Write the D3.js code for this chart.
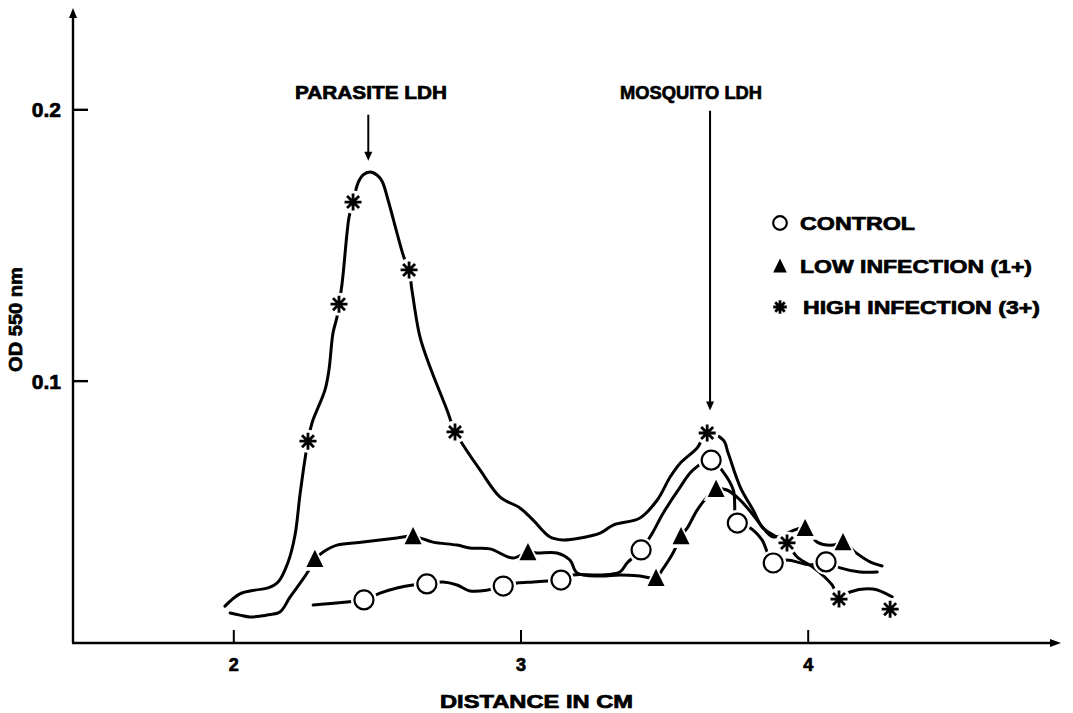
<!DOCTYPE html>
<html>
<head>
<meta charset="utf-8">
<script src="https://cdn.jsdelivr.net/npm/d3@7"></script>
<style>
  html, body { margin: 0; padding: 0; background: #fff; }
  svg text { font-family: "Liberation Sans", Arial, sans-serif; font-weight: bold; fill: #000; stroke: #000; stroke-width: 0.7px; }
</style>
</head>
<body>
<svg id="chart" width="1073" height="713"></svg>
<script>
// ---------- data (distance in cm, OD 550 nm) ----------
const xTicks = [2, 3, 4];
const yTicks = [0.1, 0.2];
const yTickLabels = ["0.1", "0.2"];

const highLine = [[1.971,0.0169],[2.023,0.0214],[2.076,0.0228],[2.121,0.0236],[2.156,0.0258],[2.191,0.0332],[2.215,0.0431],[2.232,0.0578],[2.249,0.0707],[2.260,0.0777],[2.274,0.0844],[2.319,0.0965],[2.333,0.1039],[2.347,0.1175],[2.361,0.1234],[2.368,0.1282],[2.379,0.1360],[2.396,0.1544],[2.403,0.1603],[2.417,0.1658],[2.434,0.1728],[2.452,0.1758],[2.476,0.1769],[2.500,0.1758],[2.518,0.1735],[2.539,0.1665],[2.570,0.1544],[2.594,0.1455],[2.612,0.1408],[2.622,0.1334],[2.650,0.1161],[2.685,0.1050],[2.744,0.0892],[2.772,0.0811],[2.800,0.0763],[2.859,0.0671],[2.929,0.0571],[2.998,0.0531],[3.044,0.0486],[3.103,0.0424],[3.148,0.0413],[3.208,0.0420],[3.277,0.0438],[3.323,0.0468],[3.416,0.0494],[3.476,0.0560],[3.521,0.0645],[3.556,0.0696],[3.615,0.0752],[3.650,0.0807],[3.706,0.0781],[3.723,0.0733],[3.765,0.0608],[3.810,0.0523],[3.841,0.0461],[3.880,0.0431],[3.928,0.0402],[3.963,0.0350],[4.018,0.0313],[4.085,0.0247],[4.109,0.0195],[4.147,0.0221],[4.227,0.0232],[4.294,0.0203]];
const highMarkers = [[2.260,0.0777],[2.368,0.1282],[2.417,0.1658],[2.612,0.1408],[2.772,0.0811],[3.650,0.0807],[3.928,0.0402],[4.109,0.0195],[4.287,0.0158]];

const controlLine = [[2.278,0.0173],[2.396,0.0184],[2.455,0.0192],[2.511,0.0217],[2.570,0.0236],[2.626,0.0247],[2.674,0.0251],[2.730,0.0258],[2.779,0.0247],[2.824,0.0225],[2.884,0.0228],[2.940,0.0243],[2.988,0.0254],[3.044,0.0258],[3.093,0.0262],[3.141,0.0265],[3.183,0.0284],[3.277,0.0284],[3.346,0.0295],[3.371,0.0328],[3.420,0.0376],[3.459,0.0438],[3.497,0.0512],[3.556,0.0608],[3.601,0.0671],[3.664,0.0707],[3.706,0.0663],[3.741,0.0597],[3.755,0.0475],[3.800,0.0457],[3.841,0.0413],[3.880,0.0328],[3.928,0.0339],[4.008,0.0321],[4.064,0.0332],[4.113,0.0310],[4.182,0.0295],[4.242,0.0295]];
const controlMarkers = [[2.455,0.0192],[2.674,0.0251],[2.940,0.0243],[3.141,0.0265],[3.420,0.0376],[3.664,0.0707],[3.755,0.0475],[3.880,0.0328],[4.064,0.0332]];

const lowLine = [[1.989,0.0144],[2.023,0.0136],[2.058,0.0129],[2.117,0.0136],[2.162,0.0147],[2.198,0.0203],[2.257,0.0291],[2.284,0.0343],[2.312,0.0368],[2.361,0.0394],[2.452,0.0405],[2.570,0.0420],[2.626,0.0427],[2.695,0.0405],[2.779,0.0394],[2.824,0.0383],[2.894,0.0380],[2.974,0.0346],[3.026,0.0368],[3.057,0.0365],[3.127,0.0365],[3.172,0.0339],[3.197,0.0291],[3.277,0.0280],[3.346,0.0284],[3.416,0.0280],[3.472,0.0273],[3.493,0.0302],[3.531,0.0365],[3.559,0.0427],[3.583,0.0461],[3.615,0.0523],[3.650,0.0571],[3.681,0.0601],[3.719,0.0597],[3.765,0.0560],[3.810,0.0505],[3.845,0.0457],[3.880,0.0424],[3.991,0.0457],[4.033,0.0405],[4.088,0.0394],[4.123,0.0405],[4.165,0.0368],[4.217,0.0332],[4.259,0.0317]];
const lowMarkers = [[2.284,0.0343],[2.626,0.0427],[3.026,0.0368],[3.472,0.0273],[3.559,0.0427],[3.681,0.0601],[3.991,0.0457],[4.123,0.0405]];

const legendLabels = ["CONTROL", "LOW INFECTION (1+)", "HIGH INFECTION (3+)"];
const legendKinds = ["circle", "triangle", "asterisk"];
const annotations = [
  { text: "PARASITE LDH", x: 2.47, top: 0.198, bottom: 0.181 },
  { text: "MOSQUITO LDH", x: 3.66, top: 0.1995, bottom: 0.089 }
];

// ---------- layout ----------
const svg = d3.select("#chart");
const x = d3.scaleLinear().domain([2, 4]).range([233.3, 807.7]);
const y = d3.scaleLinear().domain([0, 0.2]).range([652, 109.3]);
const axisX = 73, axisY = 643;

// axes lines with arrows
svg.append("line").attr("x1", axisX).attr("y1", axisY).attr("x2", axisX).attr("y2", 16)
  .attr("stroke", "#000").attr("stroke-width", 2.4);
svg.append("path").attr("d", `M${axisX - 4},18 L${axisX},8 L${axisX + 4},18 Z`).attr("fill", "#000");
svg.append("line").attr("x1", axisX - 1).attr("y1", axisY).attr("x2", 1052).attr("y2", axisY)
  .attr("stroke", "#000").attr("stroke-width", 2.4);
svg.append("path").attr("d", `M1050,${axisY - 4} L1061,${axisY} L1050,${axisY + 4} Z`).attr("fill", "#000");

// y axis ticks (inward) and labels
const yAxis = d3.axisLeft(y).tickValues(yTicks).tickSizeInner(-15).tickSizeOuter(0).tickPadding(12)
  .tickFormat((d, i) => yTickLabels[i]);
const gy = svg.append("g").attr("transform", `translate(${axisX},0)`).call(yAxis);
gy.attr("font-size", null).attr("font-family", null);
gy.select(".domain").remove();
gy.selectAll(".tick line").attr("stroke", "#000").attr("stroke-width", 2.4);
gy.selectAll(".tick text").style("font-size", "21px").attr("dy", "0.36em");

// x axis ticks (inward) and labels
const xAxis = d3.axisBottom(x).tickValues(xTicks).tickSizeInner(-13).tickSizeOuter(0).tickPadding(15)
  .tickFormat(d3.format("d"));
const gx = svg.append("g").attr("transform", `translate(0,${axisY})`).call(xAxis);
gx.attr("font-size", null).attr("font-family", null);
gx.select(".domain").remove();
gx.selectAll(".tick line").attr("stroke", "#000").attr("stroke-width", 2);
gx.selectAll(".tick text").style("font-size", "18px");

// axis titles
svg.append("text").attr("x", 440).attr("y", 708).style("font-size", "18px")
  .attr("textLength", 193).attr("lengthAdjust", "spacingAndGlyphs").text("DISTANCE IN CM");
svg.append("text").attr("transform", "translate(22,372) rotate(-90)").style("font-size", "18px")
  .attr("textLength", 105).attr("lengthAdjust", "spacingAndGlyphs").text("OD 550 nm");

// ---------- curves ----------
const line = d3.line().x(d => x(d[0])).y(d => y(d[1])).curve(d3.curveCatmullRom.alpha(0.5));
const gLines = svg.append("g");
[highLine, controlLine, lowLine].forEach(data => {
  gLines.append("path").attr("d", line(data)).attr("fill", "none").attr("stroke", "#000")
    .attr("stroke-width", 3).attr("stroke-linecap", "round").attr("stroke-linejoin", "round");
});

// ---------- markers ----------
function triPath(s) {
  const h = s * 0.95;
  return `M0,${-h / 2 - 1} L${s / 2},${h / 2} L${-s / 2},${h / 2} Z`;
}
function asteriskPath(r) {
  let p = "";
  for (let k = 0; k < 4; k++) {
    const a = k * Math.PI / 4;
    p += `M${(-r * Math.cos(a)).toFixed(2)},${(-r * Math.sin(a)).toFixed(2)} L${(r * Math.cos(a)).toFixed(2)},${(r * Math.sin(a)).toFixed(2)} `;
  }
  return p;
}
function drawMarker(g, kind, cx, cy, scale) {
  const s = scale || 1;
  const t = g.append("g").attr("transform", `translate(${cx},${cy})`);
  if (kind === "circle") {
    t.append("circle").attr("r", 9.5 * s).attr("fill", "#fff").attr("stroke", "#000").attr("stroke-width", 2.2);
  } else if (kind === "triangle") {
    t.append("path").attr("d", triPath(17 * s)).attr("fill", "#000");
  } else {
    t.append("path").attr("d", asteriskPath(8.5 * s)).attr("stroke", "#000").attr("stroke-width", 2.8)
      .attr("stroke-linecap", "butt");
    t.append("circle").attr("r", 2.6 * s).attr("fill", "#000");
  }
}
function drawHalo(g, kind, cx, cy) {
  const t = g.append("g").attr("transform", `translate(${cx},${cy})`);
  if (kind === "circle") t.append("circle").attr("r", 13).attr("fill", "#fff");
  else if (kind === "triangle") t.append("path").attr("d", triPath(25)).attr("fill", "#fff");
  else t.append("circle").attr("r", 11.5).attr("fill", "#fff");
}
const series = [
  { kind: "asterisk", pts: highMarkers },
  { kind: "circle", pts: controlMarkers },
  { kind: "triangle", pts: lowMarkers }
];
const gHalo = svg.append("g");
series.forEach(s => s.pts.forEach(p => drawHalo(gHalo, s.kind, x(p[0]), y(p[1]))));
const gMark = svg.append("g");
series.forEach(s => s.pts.forEach(p => drawMarker(gMark, s.kind, x(p[0]), y(p[1]))));

// ---------- legend ----------
const legendY = [223, 266, 307];
const legendTextX = [800, 800, 803];
const legendTextW = [115, 232, 237];
const gLeg = svg.append("g");
legendLabels.forEach((lab, i) => {
  drawMarker(gLeg, legendKinds[i], 780, legendY[i], legendKinds[i] === "circle" ? 0.72 : 0.8);
  gLeg.append("text").attr("x", legendTextX[i]).attr("y", legendY[i] + 7).style("font-size", "19px")
    .attr("textLength", legendTextW[i]).attr("lengthAdjust", "spacingAndGlyphs").text(lab);
});

// ---------- annotations ----------
const annW = [152, 142];
const annX0 = [295, 620];
annotations.forEach((a, i) => {
  svg.append("text").attr("x", annX0[i]).attr("y", 99).style("font-size", "19px")
    .attr("textLength", annW[i]).attr("lengthAdjust", "spacingAndGlyphs").text(a.text);
  const ax = x(a.x), y1 = y(a.top), y2 = y(a.bottom);
  svg.append("line").attr("x1", ax).attr("y1", y1).attr("x2", ax).attr("y2", y2 - 8)
    .attr("stroke", "#000").attr("stroke-width", 2);
  svg.append("path").attr("d", `M${ax - 4},${y2 - 9} L${ax},${y2} L${ax + 4},${y2 - 9} Z`).attr("fill", "#000");
});
</script>
</body>
</html>
